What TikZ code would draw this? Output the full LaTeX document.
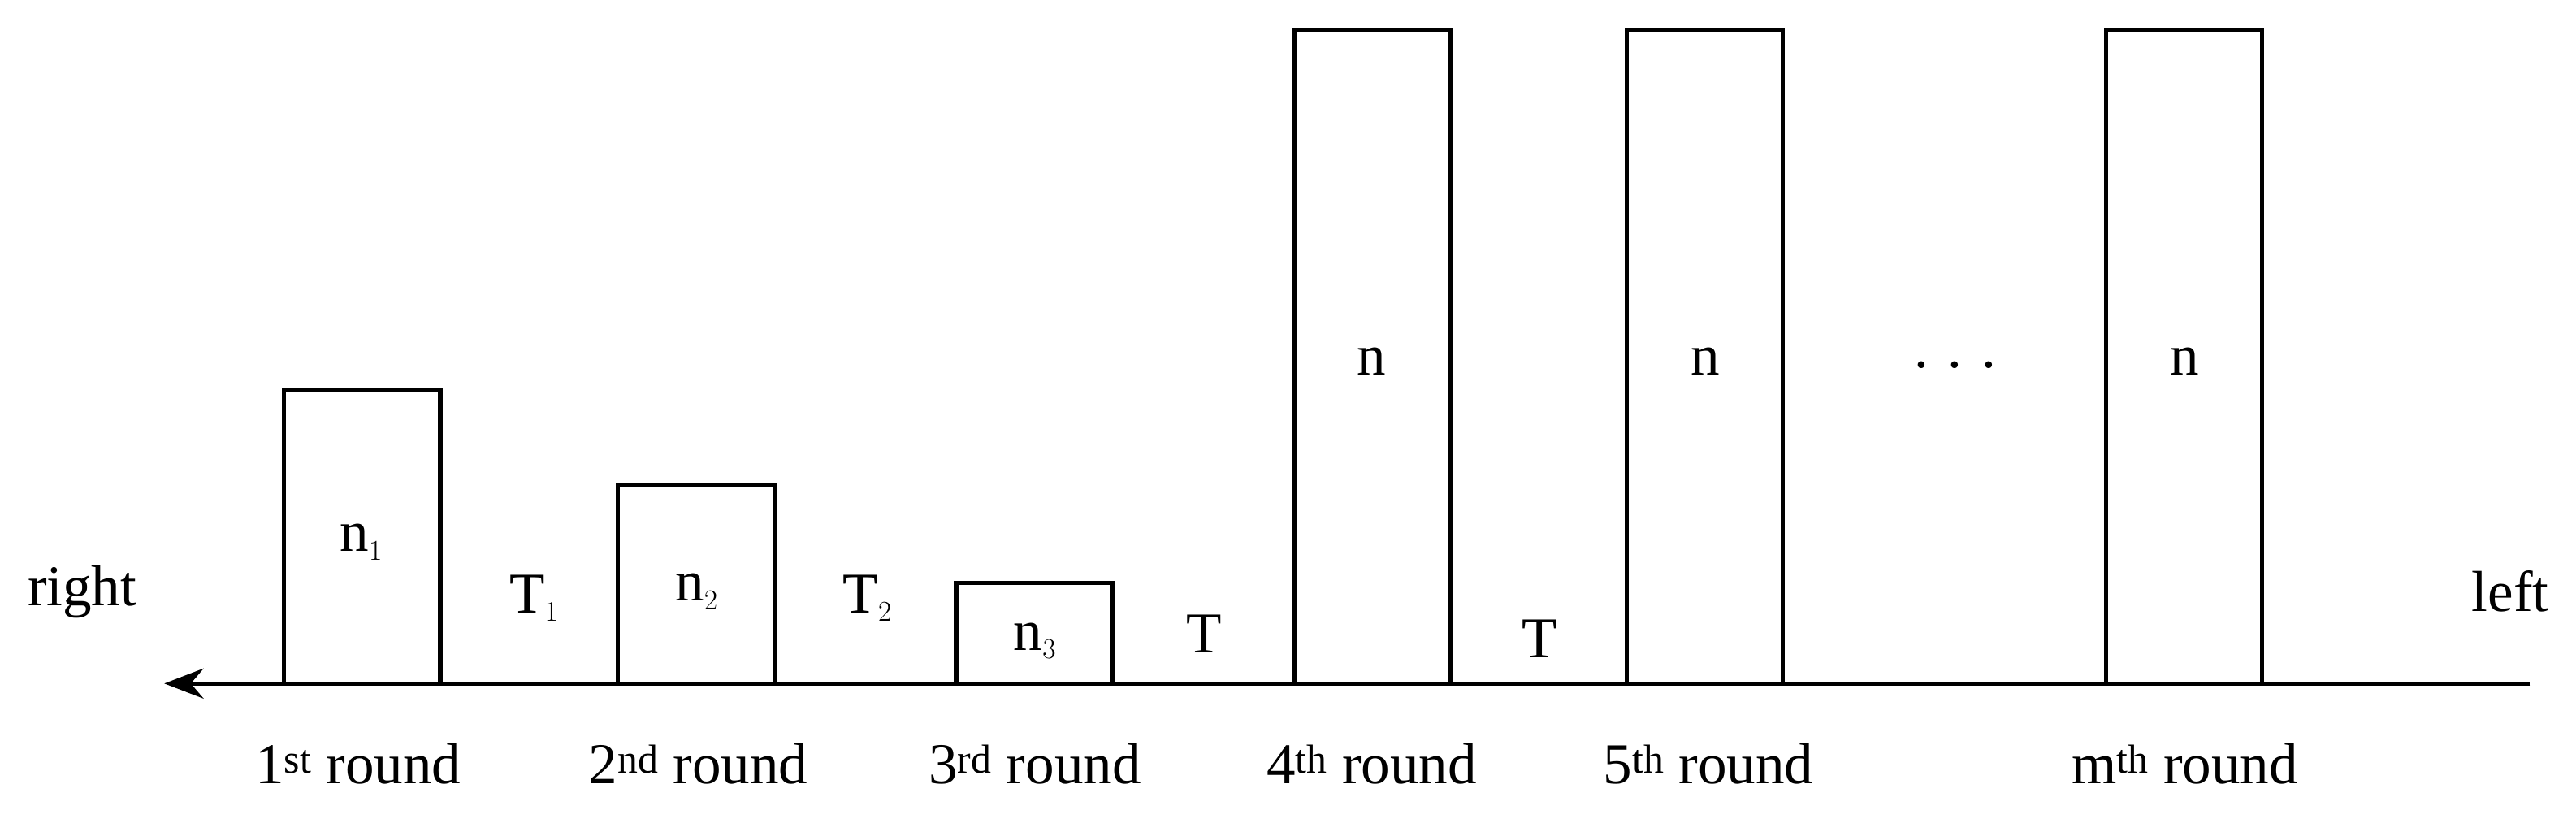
\documentclass[tikz,border=0pt]{standalone}
\usepackage{fontspec}
\setmainfont{Liberation Serif}
\usetikzlibrary{arrows.meta}
\begin{document}
\begin{tikzpicture}[x=0.05cm,y=-0.05cm,
  bar/.style={draw=black,line width=3.6pt,fill=white},
  lbl/.style={font=\fontsize{50}{60}\selectfont,inner sep=0pt},
  ax/.style={line width=3.6pt,-{Stealth[length=34pt,width=26pt]}}]
\useasboundingbox (0,0) rectangle (1568,498);
\coordinate (ae) at (1540,416);
\coordinate (as) at (100,416);
\draw[ax] (ae) -- (as);
\foreach \nm/\xa/\xb/\t in {b1/173/268/237,b2/376/472/295,b3/582/677/355,b4/788/883/18,b5/990/1085/18,b6/1282/1377/18}
  \draw[bar] (\xa,416) rectangle (\xb,\t);
\node[lbl] (n1) at (220,330) {n$_1$};
\node[lbl] (n2) at (424,360) {n$_2$};
\node[lbl] (n3) at (630,390) {n$_3$};
\node[lbl] (n4) at (835,220) {n};
\node[lbl] (n5) at (1038,220) {n};
\node[lbl] (n6) at (1330,220) {n};
\node[lbl] (d) at (1190,222) {. . .};
\node[lbl] (t1) at (325,364) {T$_1$};
\node[lbl] (t2) at (528,364) {T$_2$};
\node[lbl] (t3) at (733,386) {T};
\node[lbl] (t4) at (937,389) {T};
\node[lbl] (r) at (50,360) {right};
\node[lbl] (l) at (1528,360) {left};
\node[lbl] (r1) at (218,465) {1\textsuperscript{st} round};
\node[lbl] (r2) at (425,465) {2\textsuperscript{nd} round};
\node[lbl] (r3) at (630,465) {3\textsuperscript{rd} round};
\node[lbl] (r4) at (835,465) {4\textsuperscript{th} round};
\node[lbl] (r5) at (1040,465) {5\textsuperscript{th} round};
\node[lbl] (r6) at (1330,465) {m\textsuperscript{th} round};
\end{tikzpicture}
\end{document}
